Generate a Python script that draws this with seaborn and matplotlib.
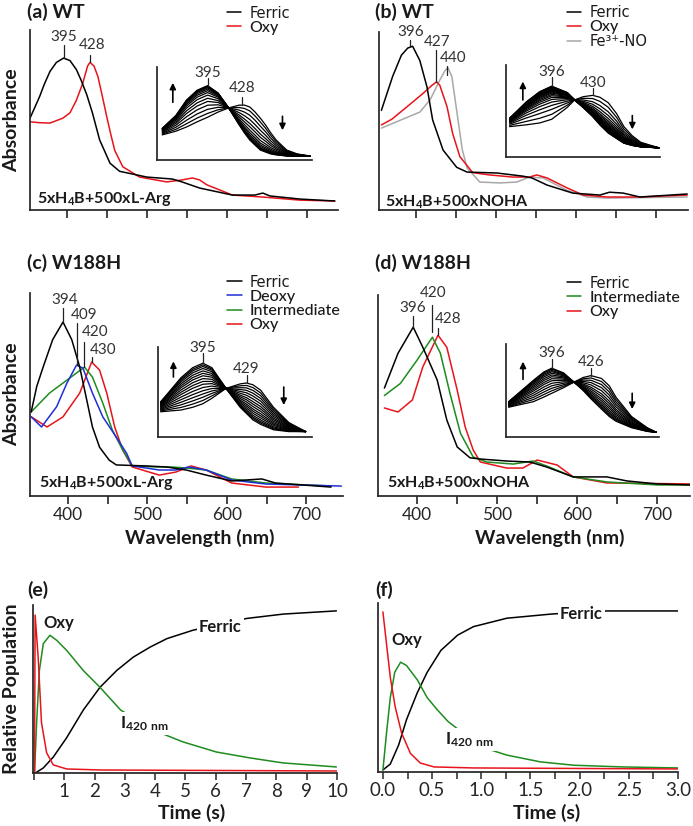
import numpy as np
import pandas as pd
import seaborn as sns
import matplotlib.pyplot as plt
from matplotlib.ticker import MultipleLocator

# ---------------- data ----------------
# (a) WT, 5xH4B + 500xL-Arg
wl_a_fer = [354, 360, 366, 372, 379, 387, 396, 404, 412, 418, 425, 432, 441, 454, 466, 482, 500, 532, 544, 566, 607, 635, 645, 654, 691, 735]
ab_a_fer = [0.51, 0.57, 0.63, 0.70, 0.77, 0.82, 0.844, 0.83, 0.78, 0.72, 0.64, 0.54, 0.39, 0.26, 0.215, 0.20, 0.183, 0.172, 0.156, 0.122, 0.083, 0.083, 0.094, 0.078, 0.061, 0.05]
wl_a_oxy = [354, 366, 379, 395, 404, 412, 420, 426, 429, 434, 439, 445, 450, 455, 460, 470, 491, 525, 544, 557, 566, 575, 607, 645, 691, 735]
ab_a_oxy = [0.49, 0.485, 0.483, 0.51, 0.54, 0.61, 0.705, 0.80, 0.82, 0.80, 0.74, 0.62, 0.517, 0.42, 0.33, 0.24, 0.183, 0.156, 0.167, 0.178, 0.167, 0.14, 0.083, 0.072, 0.055, 0.05]

# (b) WT, 5xH4B + 500xNOHA
wl_b_fer = [357, 371, 382, 390, 396, 405, 414, 421, 434, 451, 464, 501, 534, 545, 564, 596, 630, 642, 659, 680, 739]
ab_b_fer = [0.56, 0.75, 0.87, 0.91, 0.92, 0.84, 0.69, 0.506, 0.337, 0.24, 0.213, 0.208, 0.19, 0.18, 0.14, 0.095, 0.084, 0.10, 0.095, 0.073, 0.09]
wl_b_oxy = [357, 370, 389, 409, 420, 426, 430, 439, 446, 455, 471, 492, 521, 542, 551, 564, 589, 609, 639, 680, 739]
ab_b_oxy = [0.478, 0.51, 0.58, 0.655, 0.70, 0.72, 0.70, 0.58, 0.43, 0.30, 0.21, 0.197, 0.185, 0.185, 0.197, 0.18, 0.124, 0.084, 0.073, 0.073, 0.084]
wl_b_no = [357, 389, 405, 418, 430, 436, 440, 445, 451, 458, 464, 480, 505, 526, 542, 559, 589, 614, 639, 739]
ab_b_no = [0.46, 0.52, 0.55, 0.62, 0.73, 0.78, 0.80, 0.75, 0.56, 0.34, 0.236, 0.157, 0.152, 0.157, 0.185, 0.18, 0.11, 0.073, 0.067, 0.073]

# (c) W188H, 5xH4B + 500xL-Arg
wl_c_fer = [354, 361, 369, 381, 394, 405, 415, 424, 431, 440, 452, 461, 499, 524, 549, 574, 606, 644, 661, 731]
ab_c_fer = [0.414, 0.54, 0.635, 0.77, 0.857, 0.77, 0.635, 0.47, 0.34, 0.24, 0.177, 0.153, 0.148, 0.143, 0.128, 0.103, 0.074, 0.084, 0.064, 0.044]
wl_c_deo = [354, 367, 386, 399, 411, 419, 431, 444, 461, 474, 481, 515, 536, 552, 574, 606, 649, 744]
ab_c_deo = [0.39, 0.34, 0.44, 0.557, 0.645, 0.63, 0.507, 0.39, 0.29, 0.21, 0.148, 0.128, 0.128, 0.143, 0.128, 0.079, 0.059, 0.049]
wl_c_int = [354, 377, 399, 421, 431, 444, 456, 469, 481, 511, 531, 549, 574, 606, 649, 731]
ab_c_int = [0.414, 0.507, 0.571, 0.635, 0.586, 0.458, 0.325, 0.227, 0.148, 0.143, 0.143, 0.138, 0.128, 0.084, 0.064, 0.049]
wl_c_oxy = [354, 374, 394, 415, 430, 440, 449, 459, 469, 481, 515, 536, 555, 574, 606, 649, 690]
ab_c_oxy = [0.39, 0.34, 0.39, 0.507, 0.66, 0.62, 0.507, 0.34, 0.227, 0.143, 0.103, 0.118, 0.148, 0.128, 0.064, 0.044, 0.044]

# (d) W188H, 5xH4B + 500xNOHA
wl_d_fer = [359, 376, 395, 407, 425, 437, 450, 466, 479, 512, 541, 562, 595, 637, 662, 700, 741]
ab_d_fer = [0.537, 0.71, 0.84, 0.74, 0.577, 0.378, 0.244, 0.19, 0.184, 0.174, 0.169, 0.144, 0.095, 0.095, 0.075, 0.06, 0.055]
wl_d_int = [359, 379, 400, 419, 429, 441, 454, 470, 487, 520, 545, 562, 595, 637, 700, 741]
ab_d_int = [0.50, 0.56, 0.677, 0.79, 0.71, 0.51, 0.313, 0.194, 0.169, 0.159, 0.174, 0.149, 0.095, 0.07, 0.055, 0.055]
wl_d_oxy = [359, 376, 394, 407, 426, 437, 450, 460, 470, 479, 512, 532, 550, 575, 595, 637, 741]
ab_d_oxy = [0.438, 0.418, 0.478, 0.642, 0.80, 0.74, 0.527, 0.343, 0.229, 0.169, 0.139, 0.139, 0.179, 0.154, 0.095, 0.065, 0.06]

# inset titrations: end spectra + relative ferric fraction of each trace
ins_a_wl = [352, 365, 375, 385, 395, 405, 415, 425, 430, 435, 440, 445, 450, 455, 460, 470, 480, 492]
ins_a_fer = [0.34, 0.48, 0.645, 0.75, 0.80, 0.72, 0.56, 0.376, 0.29, 0.215, 0.16, 0.107, 0.085, 0.065, 0.055, 0.043, 0.04, 0.04]
ins_a_oxy = [0.27, 0.31, 0.355, 0.41, 0.46, 0.516, 0.56, 0.59, 0.59, 0.57, 0.516, 0.45, 0.376, 0.29, 0.215, 0.107, 0.065, 0.043]
ins_a_frac = [0, 0.12, 0.25, 0.38, 0.5, 0.6, 0.7, 0.78, 0.84, 0.89, 0.93, 0.96, 0.98, 1.0]

ins_b_wl = [361, 375, 386, 396, 409, 415, 422, 430, 436, 443, 450, 456, 463, 470, 485]
ins_b_fer = [0.42, 0.60, 0.71, 0.77, 0.70, 0.62, 0.54, 0.44, 0.35, 0.26, 0.20, 0.15, 0.125, 0.11, 0.10]
ins_b_oxy = [0.33, 0.35, 0.37, 0.41, 0.54, 0.62, 0.655, 0.67, 0.65, 0.59, 0.47, 0.33, 0.23, 0.16, 0.10]
ins_b_frac = [0, 0.15, 0.3, 0.42, 0.52, 0.6, 0.66, 0.71, 0.75, 0.79, 0.82, 0.85, 0.87, 0.89, 0.91, 0.93, 0.945, 0.96, 0.97, 0.98, 0.99, 1.0]

ins_c_wl = [362, 378, 387, 395, 402, 413, 424, 429, 434, 440, 450, 462, 475]
ins_c_fer = [0.39, 0.66, 0.77, 0.82, 0.77, 0.54, 0.33, 0.26, 0.19, 0.14, 0.08, 0.06, 0.06]
ins_c_oxy = [0.28, 0.30, 0.33, 0.37, 0.43, 0.54, 0.59, 0.60, 0.58, 0.52, 0.33, 0.16, 0.06]
ins_c_frac = [0, 0.08, 0.16, 0.24, 0.32, 0.4, 0.48, 0.55, 0.62, 0.69, 0.75, 0.81, 0.87, 0.92, 0.96, 1.0]

ins_d_wl = [363, 382, 390, 396, 405, 413, 420, 426, 434, 440, 445, 457, 469, 476]
ins_d_fer = [0.38, 0.61, 0.70, 0.74, 0.69, 0.59, 0.50, 0.41, 0.30, 0.22, 0.17, 0.10, 0.06, 0.05]
ins_d_oxy = [0.32, 0.38, 0.43, 0.47, 0.53, 0.59, 0.64, 0.66, 0.63, 0.55, 0.43, 0.22, 0.10, 0.05]
ins_d_frac = [0, 0.1, 0.2, 0.3, 0.4, 0.5, 0.58, 0.66, 0.73, 0.8, 0.86, 0.91, 0.96, 1.0]

# peak labels (nm)
peaks_a, peaks_a_ins = [395, 428], [395, 428]
peaks_b, peaks_b_ins = [396, 427, 440], [396, 430]
peaks_c, peaks_c_ins = [394, 409, 420, 430], [395, 429]
peaks_d, peaks_d_ins = [396, 420, 428], [396, 426]

# (e) WT kinetics, (f) W188H kinetics
t_e_oxy = [0.02, 0.04, 0.14, 0.25, 0.42, 0.64, 1.08, 2.2, 10.0]
y_e_oxy = [0.0, 0.94, 0.69, 0.30, 0.12, 0.048, 0.024, 0.018, 0.012]
t_e_int = [0.02, 0.09, 0.18, 0.31, 0.53, 0.75, 1.08, 1.63, 2.18, 2.86, 3.93, 4.92, 6.02, 7.12, 8.22, 9.98]
y_e_int = [0.0, 0.30, 0.61, 0.77, 0.82, 0.79, 0.73, 0.61, 0.51, 0.375, 0.256, 0.185, 0.125, 0.09, 0.06, 0.036]
t_e_fer = [0.05, 0.31, 0.64, 1.08, 1.63, 2.18, 2.73, 3.28, 3.84, 4.39, 5.25, 7.02, 8.23, 9.98]
y_e_fer = [0.0, 0.03, 0.095, 0.21, 0.375, 0.51, 0.61, 0.69, 0.75, 0.80, 0.85, 0.92, 0.946, 0.965]

t_f_oxy = [0.0, 0.04, 0.075, 0.125, 0.19, 0.28, 0.38, 0.52, 0.92, 3.0]
y_f_oxy = [0.947, 0.74, 0.56, 0.385, 0.23, 0.11, 0.053, 0.03, 0.024, 0.018]
t_f_int = [0.0, 0.04, 0.075, 0.12, 0.18, 0.24, 0.35, 0.45, 0.55, 0.66, 0.99, 1.26, 1.6, 1.94, 2.44, 3.0]
y_f_int = [0.012, 0.25, 0.44, 0.59, 0.65, 0.63, 0.545, 0.44, 0.37, 0.30, 0.15, 0.10, 0.06, 0.04, 0.03, 0.024]
t_f_fer = [0.0, 0.075, 0.16, 0.24, 0.35, 0.45, 0.59, 0.76, 0.92, 1.26, 1.72, 2.28, 3.0]
y_f_fer = [0.012, 0.047, 0.16, 0.31, 0.47, 0.59, 0.72, 0.81, 0.86, 0.91, 0.935, 0.953, 0.953]

# ---------------- style ----------------
sns.set_theme(style='white')
plt.rcParams['font.family'] = ['Lato', 'DejaVu Sans']
plt.rcParams['mathtext.fontset'] = 'custom'
plt.rcParams['mathtext.rm'] = 'Lato'
plt.rcParams['mathtext.bf'] = 'Lato:bold'
plt.rcParams['mathtext.default'] = 'regular'
plt.rcParams['text.color'] = '#1a1a1a'

W, H = 693, 826
fig = plt.figure(figsize=(W / 100, H / 100), dpi=100)
fig.patch.set_facecolor('white')


def px_axes(l, t, r, b):
    return fig.add_axes([l / W, 1 - b / H, (r - l) / W, (b - t) / H])


def ftext(px, py, s, **kw):
    fig.text(px / W, 1 - py / H, s, **kw)


def peak(ax, lab, xl, y0, y1, xt, yt, fs=11):
    ax.plot([xl, xl], [y0, y1], color='#222222', lw=0.9, clip_on=False)
    ax.text(xt, yt, str(lab), ha='center', va='center', fontsize=fs, color='#333333', clip_on=False)


def spectrum(box, xlim, curves, leg_xy, cond, cond_xy, ticklabels):
    ax = px_axes(*box)
    for name, wl, ab, col in curves[::-1]:
        sns.lineplot(x=wl, y=ab, color=col, lw=1.1, ax=ax, label=name)
    h, l = ax.get_legend_handles_labels()
    leg = ax.legend(h[::-1], l[::-1], loc='upper left', bbox_to_anchor=leg_xy, frameon=False,
                    prop={'size': 11.5, 'weight': 'medium'}, handlelength=0.9, handletextpad=0.5,
                    labelspacing=0.0, borderpad=0, borderaxespad=0)
    for txt in leg.get_texts():
        if txt.get_text().startswith('Fe'):
            # superscript glyphs come out clean in DejaVu
            txt.set_fontfamily('DejaVu Sans')
            txt.set_fontsize(10.5)
    ax.set_xlim(xlim)
    ax.set_ylim(0, 1)
    ax.set_yticks([])
    ax.set_xticks(np.arange(400, 701, 50))
    if ticklabels:
        ax.set_xticklabels(['400', '', '500', '', '600', '', '700'])
    else:
        ax.set_xticklabels([])
    ax.tick_params(axis='x', direction='out', length=6, width=1.2, labelsize=12.5, pad=2, bottom=True)
    ax.set_xlabel('')
    ax.set_ylabel('')
    sns.despine(ax=ax)
    ax.text(cond_xy[0], cond_xy[1], cond, transform=ax.transAxes, fontsize=11.5,
            fontweight='bold', va='center', ha='left')
    return ax


def inset(box, xlim, wl, fer, oxy, fracs):
    ins = px_axes(*box)
    rows = [(i, w, f * a + (1 - f) * b) for i, f in enumerate(fracs) for w, a, b in zip(wl, fer, oxy)]
    df = pd.DataFrame(rows, columns=['trace', 'wl', 'A'])
    sns.lineplot(data=df, x='wl', y='A', units='trace', estimator=None, color='black',
                 lw=0.9, ax=ins, legend=False)
    ins.set(xlim=xlim, ylim=(0, 1), xticks=[], yticks=[], xlabel='', ylabel='')
    sns.despine(ax=ins)
    ins.patch.set_alpha(0)
    return ins


def arrow(ax, x, y0, y1):
    ax.annotate('', xy=(x, y1), xytext=(x, y0),
                arrowprops=dict(arrowstyle='-|>', color='black', lw=1.2, mutation_scale=9,
                                shrinkA=0, shrinkB=0))


# ---------------- (a) ----------------
ax = spectrum((30, 30, 338, 210), (354, 739),
              [('Ferric', wl_a_fer, ab_a_fer, 'black'), ('Oxy', wl_a_oxy, ab_a_oxy, '#e8141b')],
              (0.64, 1.135), '5xH$_4$B+500xL-Arg', (0.023, 0.061), False)
peak(ax, peaks_a[0], 396, 0.844, 0.917, 396, 0.96)
peak(ax, peaks_a[1], 429, 0.82, 0.86, 431, 0.915)
ins = inset((157, 67, 312, 160), (347, 494), ins_a_wl, ins_a_fer, ins_a_oxy, ins_a_frac)
peak(ins, peaks_a_ins[0], 395, 0.80, 0.88, 395, 0.935)
peak(ins, peaks_a_ins[1], 428, 0.59, 0.677, 428, 0.774)
arrow(ins, 362, 0.62, 0.83)
arrow(ins, 466, 0.47, 0.32)

# ---------------- (b) ----------------
ax = spectrum((379, 32, 688, 210), (354, 740),
              [('Ferric', wl_b_fer, ab_b_fer, 'black'), ('Oxy', wl_b_oxy, ab_b_oxy, '#e8141b'),
               ('Fe\u00b3\u207a-NO', wl_b_no, ab_b_no, '#a8a8a8')],
              (0.608, 1.15), '5xH$_4$B+500xNOHA', (0.02, 0.045), False)
peak(ax, peaks_b[0], 393, 0.916, 0.955, 394, 1.0)
peak(ax, peaks_b[1], 425, 0.72, 0.90, 427, 0.944)
peak(ax, peaks_b[2], 439, 0.76, 0.81, 446, 0.854)
ins = inset((506, 65, 660, 157), (358, 486), ins_b_wl, ins_b_fer, ins_b_oxy, ins_b_frac)
peak(ins, peaks_b_ins[0], 396, 0.77, 0.87, 396, 0.924)
peak(ins, peaks_b_ins[1], 430, 0.67, 0.75, 430, 0.80)
arrow(ins, 372, 0.62, 0.82)
arrow(ins, 463, 0.45, 0.30)

# ---------------- (c) ----------------
ax = spectrum((30, 293, 343, 496), (352.5, 746),
              [('Ferric', wl_c_fer, ab_c_fer, 'black'), ('Deoxy', wl_c_deo, ab_c_deo, '#1f2fd6'),
               ('Intermediate', wl_c_int, ab_c_int, '#1e8c1e'), ('Oxy', wl_c_oxy, ab_c_oxy, '#e8141b')],
              (0.63, 1.09), '5xH$_4$B+500xL-Arg', (0.029, 0.064), True)
peak(ax, peaks_c[0], 394, 0.857, 0.926, 396, 0.965)
peak(ax, peaks_c[1], 411, 0.645, 0.852, 421, 0.89)
peak(ax, peaks_c[2], 420, 0.635, 0.76, 434, 0.81)
peak(ax, peaks_c[3], 430, 0.66, 0.685, 444, 0.72)
ins = inset((158, 347, 312, 437), (360, 480), ins_c_wl, ins_c_fer, ins_c_oxy, ins_c_frac)
peak(ins, peaks_c_ins[0], 395, 0.82, 0.93, 395, 0.99)
peak(ins, peaks_c_ins[1], 429, 0.60, 0.69, 429, 0.755)
arrow(ins, 372, 0.667, 0.84)
arrow(ins, 458, 0.555, 0.355)

# ---------------- (d) ----------------
ax = spectrum((378, 295, 690, 496), (351, 741),
              [('Ferric', wl_d_fer, ab_d_fer, 'black'), ('Intermediate', wl_d_int, ab_d_int, '#1e8c1e'),
               ('Oxy', wl_d_oxy, ab_d_oxy, '#e8141b')],
              (0.606, 1.095), '5xH$_4$B+500xNOHA', (0.029, 0.065), True)
peak(ax, peaks_d[0], 395, 0.84, 0.895, 394, 0.935)
peak(ax, peaks_d[1], 419, 0.816, 0.95, 420, 1.01)
peak(ax, peaks_d[2], 426, 0.80, 0.836, 439, 0.88)
ins = inset((506, 344, 659, 437), (361, 478), ins_d_wl, ins_d_fer, ins_d_oxy, ins_d_frac)
peak(ins, peaks_d_ins[0], 396, 0.74, 0.84, 396, 0.90)
peak(ins, peaks_d_ins[1], 426, 0.66, 0.74, 426, 0.806)
arrow(ins, 374, 0.62, 0.81)
arrow(ins, 457.5, 0.47, 0.30)

# ---------------- kinetics ----------------
white_box = dict(facecolor='white', edgecolor='none', pad=1.5)


def kinetics(box, xlim, t_oxy, y_oxy, t_int, y_int, t_fer, y_fer):
    ax = px_axes(*box)
    sns.lineplot(x=t_fer, y=y_fer, color='black', lw=1.1, ax=ax)
    sns.lineplot(x=t_int, y=y_int, color='#1e8c1e', lw=1.1, ax=ax)
    sns.lineplot(x=t_oxy, y=y_oxy, color='#e8141b', lw=1.1, ax=ax)
    ax.set_xlim(xlim)
    ax.set_ylim(0, 1)
    ax.set_yticks([])
    ax.set_xlabel('')
    ax.set_ylabel('')
    sns.despine(ax=ax)
    ax.tick_params(axis='x', which='both', direction='out', length=5, width=1.1,
                   labelsize=13.5, pad=2, bottom=True)
    return ax


ax = kinetics((33, 605, 337, 773), (-0.03, 10.0), t_e_oxy, y_e_oxy, t_e_int, y_e_int, t_e_fer, y_e_fer)
ax.set_xticks(range(0, 11))
ax.set_xticklabels([''] + [str(i) for i in range(1, 11)])
ax.text(0.3, 0.89, 'Oxy', fontsize=12, fontweight='bold', va='center', ha='left', bbox=white_box)
ax.text(5.45, 0.87, 'Ferric', fontsize=12, fontweight='bold', va='center', ha='left', bbox=white_box)
ax.text(2.85, 0.295, 'I$_{420\\ nm}$', fontsize=12.5, fontweight='bold', va='center', ha='left', bbox=white_box)

ax = kinetics((378, 603, 678, 772), (-0.05, 3.0), t_f_oxy, y_f_oxy, t_f_int, y_f_int, t_f_fer, y_f_fer)
ax.xaxis.set_major_locator(MultipleLocator(0.5))
ax.xaxis.set_minor_locator(MultipleLocator(0.25))
ax.xaxis.set_major_formatter(plt.FuncFormatter(lambda v, _: f'{v:.1f}'))
ax.text(0.09, 0.78, 'Oxy', fontsize=12, fontweight='bold', va='center', ha='left', bbox=white_box)
ax.text(1.80, 0.935, 'Ferric', fontsize=12, fontweight='bold', va='center', ha='left', bbox=white_box)
ax.text(0.63, 0.19, 'I$_{420\\ nm}$', fontsize=12.5, fontweight='bold', va='center', ha='left', bbox=white_box)

# ---------------- titles & axis labels ----------------
for px, py, s in [(27, 12, '(a) WT'), (375, 12, '(b) WT'), (27, 263, '(c) W188H'),
                  (375, 263, '(d) W188H'), (27, 590, '(e)'), (375, 590, '(f)')]:
    ftext(px, py, s, fontsize=14, fontweight='bold', ha='left', va='center')

ftext(12, 120, 'Absorbance', fontsize=14, fontweight='bold', rotation=90, ha='center', va='center')
ftext(12, 394, 'Absorbance', fontsize=14, fontweight='bold', rotation=90, ha='center', va='center')
ftext(12, 689, 'Relative Population', fontsize=14, fontweight='bold', rotation=90, ha='center', va='center')
ftext(200, 538, 'Wavelength (nm)', fontsize=14, fontweight='bold', ha='center', va='center')
ftext(550, 538, 'Wavelength (nm)', fontsize=14, fontweight='bold', ha='center', va='center')
ftext(192, 813, 'Time (s)', fontsize=14, fontweight='bold', ha='center', va='center')
ftext(547, 813, 'Time (s)', fontsize=14, fontweight='bold', ha='center', va='center')

plt.savefig('out.png', dpi=100)
